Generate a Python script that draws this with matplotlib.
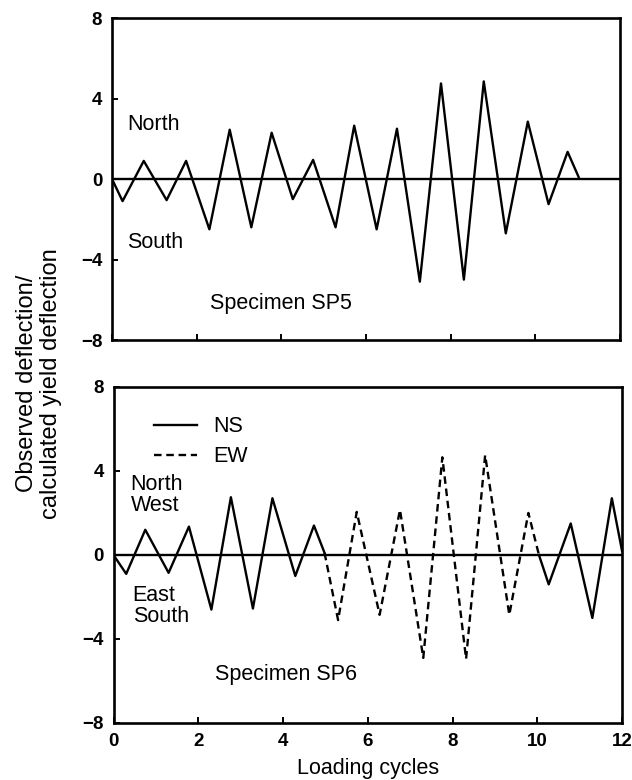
import matplotlib
matplotlib.use("Agg")
import matplotlib.pyplot as plt

plt.rcParams["font.family"] = ["Liberation Sans", "DejaVu Sans"]

# Specimen SP5 (single loading direction, North/South)
sp5_cycles = [0, 0.25, 0.75, 1.29, 1.75, 2.3, 2.78, 3.29, 3.77, 4.27, 4.75, 5.28,
              5.72, 6.25, 6.73, 7.27, 7.77, 8.31, 8.78, 9.3, 9.82, 10.31, 10.76, 11.02]
sp5_defl = [0, -1.1, 0.9, -1.05, 0.9, -2.5, 2.45, -2.4, 2.3, -1.0, 0.95, -2.4,
            2.65, -2.5, 2.5, -5.1, 4.75, -5.0, 4.85, -2.7, 2.85, -1.25, 1.35, 0.1]

# Specimen SP6, NS loading before the EW phase
sp6_ns1_cycles = [0, 0.3, 0.75, 1.3, 1.78, 2.31, 2.77, 3.29, 3.75, 4.29, 4.73, 4.98]
sp6_ns1_defl = [0, -0.9, 1.2, -0.85, 1.35, -2.6, 2.75, -2.55, 2.7, -1.0, 1.4, 0.1]

# Specimen SP6, EW loading
sp6_ew_cycles = [4.98, 5.3, 5.74, 6.28, 6.76, 7.31, 7.76, 8.32, 8.77, 9.34, 9.79, 10.04]
sp6_ew_defl = [0.1, -3.1, 2.05, -2.85, 2.15, -4.9, 4.65, -4.95, 4.75, -2.85, 2.0, 0.0]

# Specimen SP6, NS loading after the EW phase
sp6_ns2_cycles = [10.04, 10.27, 10.79, 11.3, 11.76, 12.0]
sp6_ns2_defl = [0.0, -1.4, 1.5, -3.0, 2.7, 0.2]

y_ticks = [-8, -4, 0, 4, 8]
y_tick_labels = ["\u22128", "\u22124", "0", "4", "8"]
x_ticks = [0, 2, 4, 6, 8, 10, 12]
x_tick_labels = ["0", "2", "4", "6", "8", "10", "12"]

LW = 1.7
FRAME_LW = 1.9
TXT = 15.5

fig = plt.figure(figsize=(6.32, 7.8), dpi=100)
ax1 = fig.add_axes([0.1772, 0.5641, 0.804, 0.4128])
ax2 = fig.add_axes([0.1796, 0.0731, 0.8046, 0.4308])


def style_axes(ax, show_xlabels):
    ax.set_xlim(0, 12)
    ax.set_ylim(-8, 8)
    ax.set_yticks(y_ticks)
    ax.set_yticklabels(y_tick_labels)
    ax.set_xticks(x_ticks)
    if show_xlabels:
        ax.set_xticklabels(x_tick_labels)
    else:
        ax.set_xticklabels([])
    ax.tick_params(direction="in", length=4, width=1.4, top=False, right=False,
                   labelsize=13.5, pad=7)
    for lab in ax.get_xticklabels() + ax.get_yticklabels():
        lab.set_fontweight("bold")
    for sp in ax.spines.values():
        sp.set_linewidth(FRAME_LW)
    ax.axhline(0, color="black", lw=LW)


style_axes(ax1, False)
style_axes(ax2, True)

# Upper panel
ax1.plot(sp5_cycles, sp5_defl, color="black", lw=LW)
ax1.text(0.35, 2.7, "North", fontsize=TXT, va="center")
ax1.text(0.35, -3.15, "South", fontsize=TXT, va="center")
ax1.text(2.32, -6.2, "Specimen SP5", fontsize=TXT, va="center")

# Lower panel
ns_line, = ax2.plot(sp6_ns1_cycles, sp6_ns1_defl, color="black", lw=LW, label="NS")
ax2.plot(sp6_ns2_cycles, sp6_ns2_defl, color="black", lw=LW)
ew_line, = ax2.plot(sp6_ew_cycles, sp6_ew_defl, color="black", lw=LW,
                    linestyle=(0, (3.2, 2.0)), label="EW")
ax2.legend(handles=[ns_line, ew_line], loc="upper left", bbox_to_anchor=(0.08, 0.913),
           frameon=False, fontsize=TXT, handlelength=2.0, handletextpad=0.75,
           labelspacing=0.42, borderpad=0, borderaxespad=0)
ax2.text(0.4, 2.84, "North\nWest", fontsize=TXT, va="center", linespacing=1.0)
ax2.text(0.45, -2.45, "East\nSouth", fontsize=TXT, va="center", linespacing=1.0)
ax2.text(2.4, -5.7, "Specimen SP6", fontsize=TXT, va="center")
ax2.set_xlabel("Loading cycles", fontsize=TXT, labelpad=6)

fig.text(0.062, 0.508, "Observed deflection/\ncalculated yield deflection",
         rotation=90, ha="center", va="center", multialignment="center",
         fontsize=17, linespacing=1.1)

fig.savefig("out.png", dpi=100)
